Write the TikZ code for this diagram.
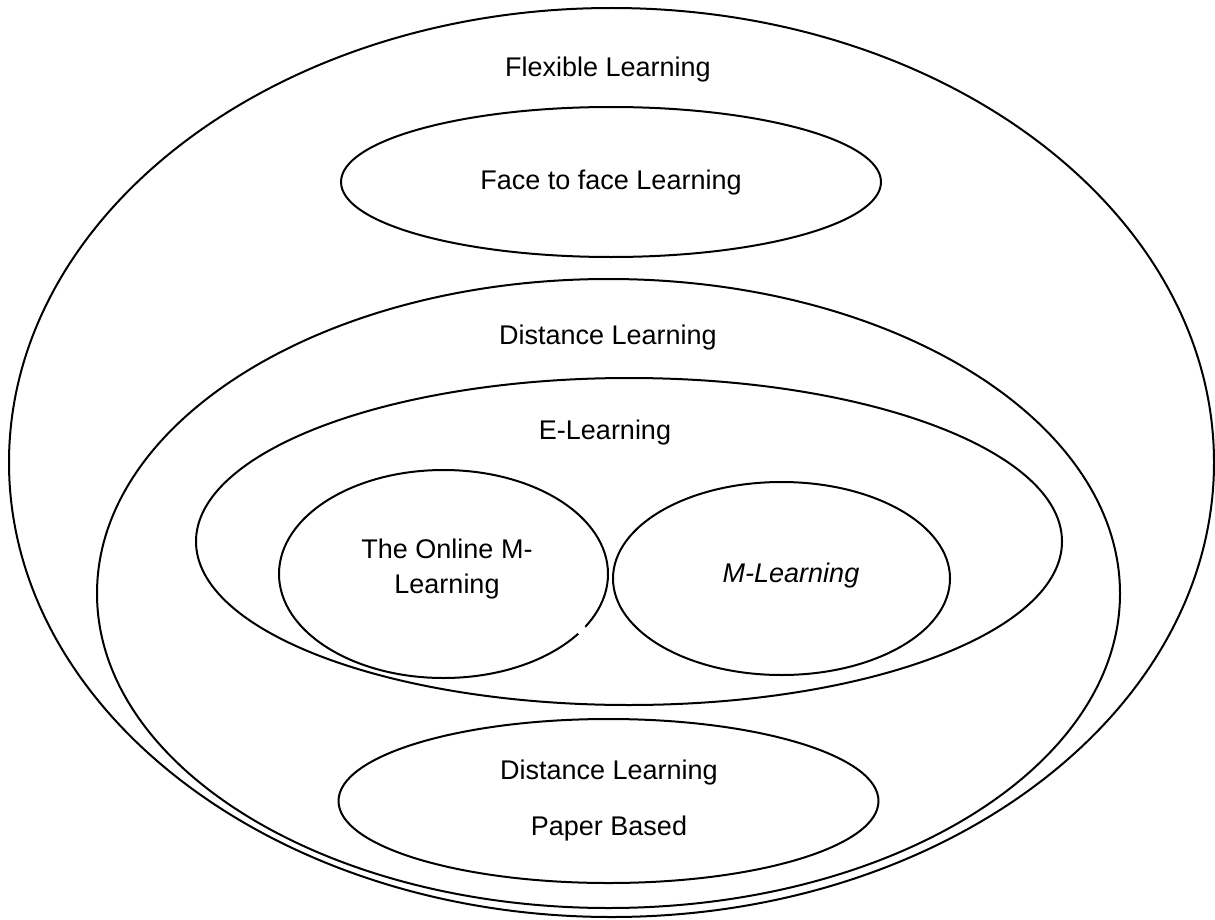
\documentclass[tikz,border=0pt]{standalone}
\usepackage{fontspec}
\setmainfont{Liberation Sans}
\usetikzlibrary{shapes.geometric}
\begin{document}
\begin{tikzpicture}[x=0.5pt,y=-0.5pt,
  ell/.style={ellipse,draw,line width=1pt,inner sep=0pt},
  lbl/.style={font=\fontsize{13.5}{17.5}\selectfont,align=center,inner sep=0pt}]
\useasboundingbox (0,0) rectangle (1215,920);
\node[ell,minimum width=602.5pt,minimum height=454.5pt] (flex) at (611.5,462.5) {};
\node[ell,minimum width=270pt,minimum height=75pt] (face) at (611,182) {};
\node[ell,minimum width=511.5pt,minimum height=314.5pt] (dist) at (608.5,593.5) {};
\node[ell,minimum width=433pt,minimum height=163.5pt] (elearn) at (629,541.5) {};
\node[ell,minimum width=164.5pt,minimum height=104pt] (online) at (443.5,574) {};
\node[ell,minimum width=168.5pt,minimum height=96.5pt] (mlearn) at (781.5,578.5) {};
\node[ell,minimum width=270pt,minimum height=82pt] (paper) at (608.5,801) {};
\fill[white] (581.5,630) circle (2.5pt);
\node[lbl] (flexlbl) at (608,70) {Flexible Learning};
\node[lbl] (facelbl) at (611,183) {Face to face Learning};
\node[lbl] (distlbl) at (608,338) {Distance Learning};
\node[lbl] (elbl) at (605,433) {E-Learning};
\node[lbl] (onlinelbl) at (447,569) {The Online M-\\Learning};
\node[lbl,font=\fontsize{13.5}{17.5}\selectfont\itshape] (mlbl) at (791,576) {M-Learning};
\node[lbl,font=\fontsize{13.5}{28}\selectfont] (paperlbl) at (609,801) {Distance Learning\\Paper Based};
\end{tikzpicture}
\end{document}
